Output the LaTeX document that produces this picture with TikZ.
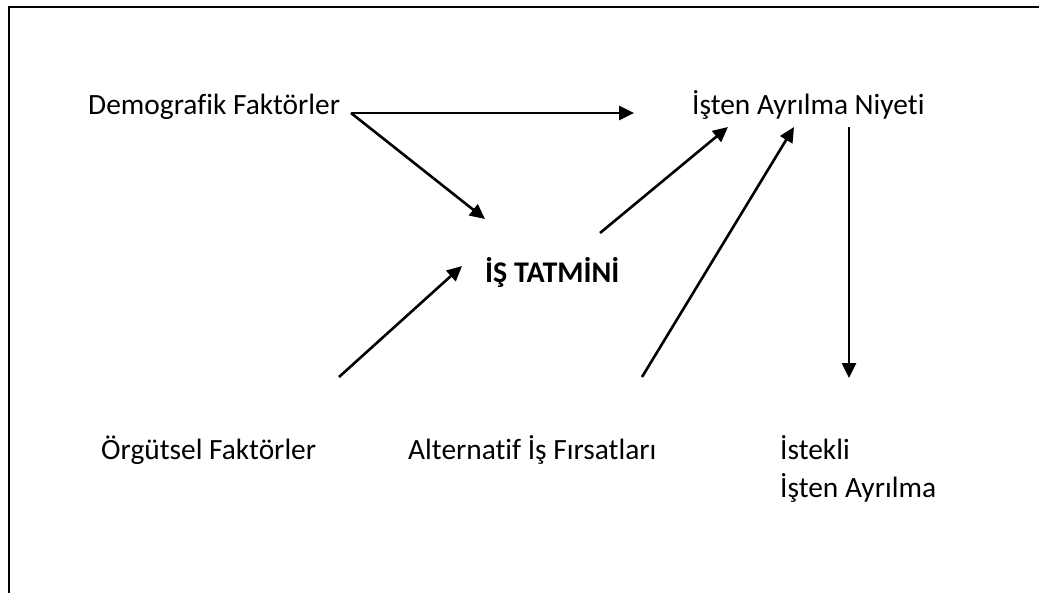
\documentclass[tikz,border=0pt]{standalone}
\usepackage{fontspec}
\setmainfont[Ligatures=NoCommon]{Carlito}
\usetikzlibrary{arrows.meta}
\begin{document}
\begin{tikzpicture}[x=1pt,y=-1pt,
  lbl/.style={inner sep=0pt,anchor=base west,font=\fontsize{29.4}{38}\selectfont},
  conn/.style={line width=2.6pt,-{Triangle[length=15pt,width=14pt]}},
  frame/.style={line width=2.6pt}]
\useasboundingbox (0,0) rectangle (1039,592);
\draw[frame] (9,600) -- (9,7) -- (1045,7);
\node[lbl] (dem) at (88,114) {Demografik Faktörler};
\node[lbl] (niy) at (692,114) {İşten Ayrılma Niyeti};
\node[lbl,font=\fontsize{30}{38}\selectfont\bfseries] (tat) at (485,282) {İŞ TATMİNİ};
\node[lbl] (org) at (101,459) {Örgütsel Faktörler};
\node[lbl] (alt) at (408,459) {Alternatif İş Fırsatları};
\node[lbl,align=left] (ist) at (780,497) {İstekli\\İşten Ayrılma};
\coordinate (d0) at (351,113);
\coordinate (n0) at (634,113);
\coordinate (t0) at (485,219);
\coordinate (o0) at (339,377);
\coordinate (t1) at (462,266);
\coordinate (t2) at (600,233);
\coordinate (n1) at (728,127);
\coordinate (a0) at (642,377);
\coordinate (n2) at (794,127);
\coordinate (n3) at (849,127);
\coordinate (i0) at (849,378);
\draw[conn] (d0) -- (n0);
\draw[conn] (d0) -- (t0);
\draw[conn] (o0) -- (t1);
\draw[conn] (t2) -- (n1);
\draw[conn] (a0) -- (n2);
\draw[conn] (n3) -- (i0);
\end{tikzpicture}
\end{document}
